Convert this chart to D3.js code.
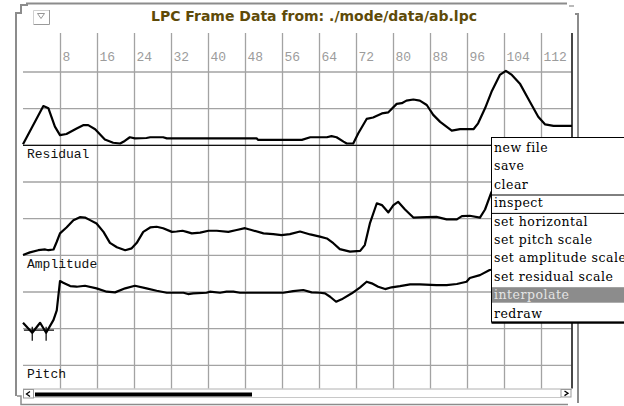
<!DOCTYPE html>
<html>
<head>
<meta charset="utf-8">
<script src="https://cdn.jsdelivr.net/npm/d3@7"></script>
<style>
  html, body { margin: 0; padding: 0; background: #fff; }
  svg { display: block; }
</style>
</head>
<body>
<svg id="chart" width="624" height="406"></svg>
<script>
// ---- data -------------------------------------------------------------
const titleText = "LPC Frame Data from: ./mode/data/ab.lpc";
const frameTicks = [8, 16, 24, 32, 40, 48, 56, 64, 72, 80, 88, 96, 104, 112];
const panelNames = ["Residual", "Amplitude", "Pitch"];

const residualFrames = [0, 4.4, 5.5, 6.9, 8, 9.4, 11.6, 13, 14.1, 15.6, 17.7, 19.5, 21, 22, 23.1, 24.2, 26.7, 27.5, 30.3, 31.1, 50.5, 50.8, 60.3, 62.1, 65.7, 66.7, 67.8, 69.3, 70, 71.4, 72.5, 74.3, 75.7, 77.6, 79, 80.8, 81.9, 82.9, 84.4, 85.8, 87.3, 88.7, 90.2, 92.7, 94.5, 97.4, 98.4, 99.9, 101.3, 103.1, 104.4, 105.7, 107.5, 109.6, 111.4, 112.9, 114.7, 118.7];
const residualValues = [0.3, 10.7, 10.1, 5.1, 2.8, 3.1, 4.6, 5.5, 5.5, 4.4, 1.6, 0.7, 0.5, 1.2, 2.2, 1.9, 2.0, 2.2, 2.2, 1.9, 1.9, 1.5, 1.5, 2.2, 2.2, 2.5, 2.2, 1.0, 0.5, 0.5, 3.3, 7.2, 7.6, 8.7, 9.0, 11.3, 11.5, 12.2, 12.5, 12.2, 11.0, 8.3, 6.4, 4.0, 4.4, 4.4, 6.0, 10.1, 14.6, 19.2, 20.3, 19.2, 16.7, 11.9, 7.8, 5.7, 5.3, 5.3];

const amplitudeFrames = [0, 1.5, 3.3, 4.8, 5.5, 6.6, 7.3, 8, 9.4, 10.9, 12.3, 13.4, 14.5, 15.9, 17.4, 18.8, 20.3, 22.1, 23.5, 24.6, 26, 27.5, 28.9, 30.3, 32.2, 33.2, 34.5, 35.4, 36.5, 38.3, 40.1, 41.9, 44.4, 46.2, 48, 49.4, 52, 54.1, 55.9, 57.7, 59.9, 62.1, 64.2, 65.7, 67.1, 68.5, 70.7, 72.9, 73.9, 75, 76.5, 77.6, 79, 80.1, 81.1, 82.6, 84.4, 87.3, 89.4, 91.6, 93.8, 94.9, 96.6, 98.8, 99.9, 101.3, 103, 106, 110, 114, 118.7];
const amplitudeValues = [0.1, 0.8, 1.4, 1.6, 1.4, 1.6, 3.7, 6.0, 7.6, 9.6, 10.4, 10.3, 9.6, 8.7, 6.4, 3.4, 2.2, 1.4, 1.9, 3.4, 6.4, 7.6, 7.8, 7.4, 6.4, 6.5, 6.7, 6.4, 6.0, 6.2, 6.7, 6.7, 6.4, 6.9, 7.4, 6.9, 6.0, 5.8, 5.5, 5.8, 6.5, 5.7, 5.1, 4.6, 3.3, 1.7, 1.0, 1.2, 2.8, 8.7, 14.2, 13.7, 11.7, 13.7, 14.6, 12.5, 10.3, 10.4, 10.5, 9.8, 9.8, 10.7, 10.8, 10.3, 12.5, 17.3, 19.5, 18.8, 18.2, 17.6, 17.4];

const pitchFrames = [0, 2, 3.7, 5, 6.6, 7.3, 8, 8.7, 10.2, 11.6, 13.4, 15.9, 18.1, 19.9, 22.1, 24.2, 26.7, 28.9, 31.1, 34.7, 35.7, 36.8, 39.7, 40.4, 42.6, 44, 45.5, 46.9, 56.3, 58.4, 60.6, 62.4, 64.2, 65.3, 66.4, 67.7, 68.9, 71.1, 72.9, 74.3, 75.4, 76.8, 78.3, 79.7, 81.5, 83.7, 85.8, 89.4, 91.6, 93.8, 95.9, 96.6, 98.8, 100.9, 104, 108, 113, 118.7];
const pitchValues = [58, 44.5, 58, 44.5, 62, 75, 115, 112.6, 108.1, 107.2, 108.5, 105, 100.4, 99.5, 105, 108.5, 105, 101.7, 99, 99, 97.2, 98.2, 99, 100.4, 99, 100.4, 100.4, 99, 99, 101.3, 102.7, 99.5, 99, 98.2, 93.5, 86.7, 90, 98.2, 106.4, 114, 111.8, 107.2, 104, 106.4, 108.1, 110.5, 110.5, 109.5, 109.5, 110.9, 114, 119, 123, 130, 132, 131, 129, 128];

// unvoiced frames at the start of the file, marked on the pitch track
const unvoicedFrames = [2, 5];
const unvoicedSpan = [0.2, 6.7];
const unvoicedLevel = 48;

const menuItems = ["new file", "save", "clear", "inspect", "set horizontal", "set pitch scale",
                   "set amplitude scale", "set residual scale", "interpolate", "redraw"];
const menuSeparatorsAfter = [2, 3];
const menuSelected = 8;

// ---- layout -----------------------------------------------------------
const W = 624, H = 406;
const plotLeft = 23, plotRight = 572, plotTop = 33, plotBottom = 388.5;
const rowTop = 35.33, rowStep = 36.667;

const svg = d3.select("#chart");

const x = d3.scaleLinear().domain([0, (plotRight - plotLeft) / 4.625]).range([plotLeft, plotRight]);

const panelScales = {
  Residual:  d3.scaleLinear().domain([0, 30]).range([rowTop + 3 * rowStep, rowTop]),
  Amplitude: d3.scaleLinear().domain([0, 30]).range([rowTop + 6 * rowStep, rowTop + 3 * rowStep]),
  Pitch:     d3.scaleLinear().domain([0, 150]).range([rowTop + 9 * rowStep, rowTop + 6 * rowStep])
};
const gridY = d3.scaleLinear().domain([0, 9]).range([rowTop + 9 * rowStep, rowTop]);

// ---- window frame -----------------------------------------------------
const frameCol = "#8c8c8c";
const frame = svg.append("g").attr("fill", "none").attr("stroke", frameCol).attr("stroke-width", 2);
frame.append("path").attr("d", "M16,396 V13 H21 V5 H27 V3.5 H567");
frame.append("path").attr("d", "M578,403 V14 H575");
frame.append("path").attr("d", "M569,6 H574").attr("stroke-width", 1.2);
frame.append("path").attr("d", "M17,396 H21 V404.5 H568").attr("stroke-width", 1.5);

// title-bar button
const btn = svg.append("g");
btn.append("path").attr("d", "M33.5,24 V10.5 H49").attr("fill", "none").attr("stroke", "#d0d0d0");
btn.append("path").attr("d", "M33.5,24.5 H49.5 V10").attr("fill", "none").attr("stroke", "#9a9a9a");
btn.append("path").attr("d", "M37.5,13.5 H44.5 L41,18.5 Z").attr("fill", "none").attr("stroke", "#8a8a8a").attr("stroke-width", 0.9);

svg.append("text")
  .attr("x", 314).attr("y", 21)
  .attr("text-anchor", "middle")
  .attr("font-family", "DejaVu Sans, sans-serif")
  .attr("font-weight", "bold")
  .attr("font-size", 14)
  .attr("fill", "#5e4a08")
  .text(titleText);

// ---- grid ---------------------------------------------------------------
const gridCol = "#a3a3a3";
svg.append("g")
  .selectAll("line")
  .data(d3.range(0, 9))
  .join("line")
  .attr("x1", plotLeft).attr("x2", plotRight)
  .attr("y1", d => gridY(d)).attr("y2", d => gridY(d))
  .attr("stroke", gridCol).attr("stroke-width", 1.3);

const xAxis = d3.axisTop(x)
  .tickValues(frameTicks)
  .tickSize(-(plotBottom - plotTop))
  .tickFormat(d3.format("d"));

const axisG = svg.append("g")
  .attr("transform", `translate(0,${plotTop})`)
  .call(xAxis);
axisG.select(".domain").remove();
axisG.selectAll(".tick line").attr("stroke", gridCol).attr("stroke-width", 1.3);
axisG.selectAll(".tick text")
  .attr("x", 2).attr("y", 28)
  .attr("dy", 0)
  .attr("text-anchor", "start")
  .attr("font-family", "Liberation Mono, monospace")
  .attr("font-size", 13)
  .attr("fill", "#9c9c9c");

// zero line of the residual panel
svg.append("line")
  .attr("x1", plotLeft).attr("x2", plotRight)
  .attr("y1", panelScales.Residual(0)).attr("y2", panelScales.Residual(0))
  .attr("stroke", "#111").attr("stroke-width", 1.2);

// right edge of the plot
svg.append("line")
  .attr("x1", plotRight).attr("x2", plotRight)
  .attr("y1", plotTop).attr("y2", plotBottom)
  .attr("stroke", "#333").attr("stroke-width", 1.8);

// panel names
svg.append("g")
  .selectAll("text")
  .data(panelNames)
  .join("text")
  .attr("x", 27)
  .attr("y", d => panelScales[d](0) + 12.7)
  .attr("font-family", "Liberation Mono, monospace")
  .attr("font-size", 13)
  .attr("fill", "#111")
  .text(d => d);

// ---- tracks ---------------------------------------------------------------
function track(frames, values, scale) {
  const pts = frames.map((f, i) => [x(f), scale(values[i])]);
  svg.append("path")
    .attr("d", d3.line()(pts))
    .attr("fill", "none")
    .attr("stroke", "#000")
    .attr("stroke-width", 2.2)
    .attr("stroke-linejoin", "round");
}
track(residualFrames, residualValues, panelScales.Residual);
track(amplitudeFrames, amplitudeValues, panelScales.Amplitude);
track(pitchFrames, pitchValues, panelScales.Pitch);

// unvoiced markers
const py = panelScales.Pitch;
svg.append("line")
  .attr("x1", x(unvoicedSpan[0])).attr("x2", x(unvoicedSpan[1]))
  .attr("y1", py(unvoicedLevel)).attr("y2", py(unvoicedLevel))
  .attr("stroke", "#000").attr("stroke-width", 1.2);
svg.append("g")
  .selectAll("line")
  .data(unvoicedFrames)
  .join("line")
  .attr("x1", d => x(d)).attr("x2", d => x(d))
  .attr("y1", py(unvoicedLevel) - 3.5).attr("y2", py(unvoicedLevel) + 10.5)
  .attr("stroke", "#000").attr("stroke-width", 1.2);

// ---- scrollbar ---------------------------------------------------------
const sb = svg.append("g");
sb.append("line").attr("x1", plotLeft).attr("x2", plotRight).attr("y1", 389).attr("y2", 389)
  .attr("stroke", "#b0b0b0").attr("stroke-width", 1);
sb.append("rect").attr("x", 23.5).attr("y", 389.5).attr("width", 10).attr("height", 8.5)
  .attr("fill", "#fff").attr("stroke", "#999");
sb.append("path").attr("d", "M30,391.5 L26.5,394 L30,396.5").attr("fill", "none").attr("stroke", "#000").attr("stroke-width", 1.3);
sb.append("rect").attr("x", 35).attr("y", 392.5).attr("width", 217).attr("height", 4).attr("fill", "#000");
sb.append("line").attr("x1", 34).attr("x2", 561).attr("y1", 397.5).attr("y2", 397.5)
  .attr("stroke", "#c8c8c8").attr("stroke-width", 1);
sb.append("rect").attr("x", 561).attr("y", 389.5).attr("width", 10).attr("height", 7.5)
  .attr("fill", "#fff").attr("stroke", "#999");
sb.append("path").attr("d", "M564.5,391 L568,393.3 L564.5,395.6").attr("fill", "none").attr("stroke", "#000").attr("stroke-width", 1.3);

// ---- popup menu --------------------------------------------------------
const menuLeft = 491.5, menuTop = 137.5, itemStep = 18.4, firstItem = 148;
const menuBottom = 322;
const menu = svg.append("g");
menu.append("rect")
  .attr("x", menuLeft).attr("y", menuTop)
  .attr("width", W - menuLeft + 5).attr("height", menuBottom - menuTop)
  .attr("fill", "#fff").attr("stroke", "#000").attr("stroke-width", 1);
menu.append("line").attr("x1", menuLeft).attr("x2", W).attr("y1", menuBottom + 0.8).attr("y2", menuBottom + 0.8)
  .attr("stroke", "#000").attr("stroke-width", 2);
menu.append("rect")
  .attr("x", menuLeft + 0.5).attr("y", firstItem + menuSelected * itemStep - 8)
  .attr("width", W - menuLeft).attr("height", 15.5)
  .attr("fill", "#8c8c8c");
menu.selectAll("line.sep")
  .data(menuSeparatorsAfter)
  .join("line")
  .attr("class", "sep")
  .attr("x1", menuLeft).attr("x2", W)
  .attr("y1", d => firstItem + (d + 0.5) * itemStep + 1)
  .attr("y2", d => firstItem + (d + 0.5) * itemStep + 1)
  .attr("stroke", "#000").attr("stroke-width", 1);
menu.selectAll("text")
  .data(menuItems)
  .join("text")
  .attr("x", 494)
  .attr("y", (d, i) => firstItem + i * itemStep + 4)
  .attr("font-family", "DejaVu Serif, serif")
  .attr("font-size", 12.5)
  .attr("letter-spacing", 0.5)
  .attr("fill", (d, i) => i === menuSelected ? "#e4e4e4" : "#000")
  .text(d => d);
</script>
</body>
</html>
